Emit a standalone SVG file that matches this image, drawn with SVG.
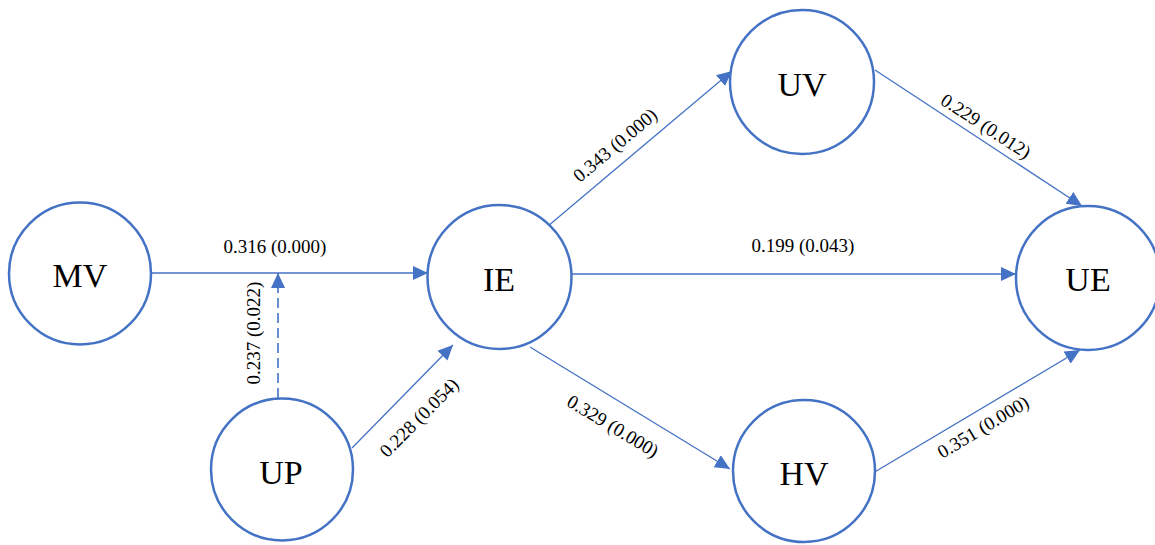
<svg xmlns="http://www.w3.org/2000/svg" width="1155" height="545" viewBox="0 0 1155 545">
  <style>
    .node circle { fill: #ffffff; stroke: #4472C4; stroke-width: 2.5; }
    .node text { font-family: "Liberation Serif", "Times New Roman", serif; font-size: 34px; fill: #000000; text-anchor: middle; }
    .edge { stroke: #4472C4; stroke-width: 1.3; fill: none; marker-end: url(#arrow); }
    .dashed { stroke-dasharray: 10 5; stroke-width: 1.6; }
    .lbl { font-family: "Liberation Serif", "Times New Roman", serif; font-size: 19px; fill: #000000; text-anchor: middle; }
  </style>
  <defs>
    <marker id="arrow" viewBox="0 0 15 14" refX="15" refY="7" markerWidth="15" markerHeight="14" markerUnits="userSpaceOnUse" orient="auto">
      <path d="M0,0 L15,7 L0,14 Z" fill="#4472C4"/>
    </marker>
  </defs>

  <rect width="1155" height="545" fill="#ffffff"/>

  <!-- connectors -->
  <g id="connectors">
    <line class="edge" x1="151" y1="273" x2="428" y2="273"/>
    <line class="edge dashed" x1="278" y1="398" x2="278" y2="273"/>
    <line class="edge" x1="352" y1="448" x2="453" y2="345"/>
    <line class="edge" x1="548" y1="226" x2="732" y2="71"/>
    <line class="edge" x1="571" y1="274" x2="1016" y2="274"/>
    <line class="edge" x1="530" y1="347" x2="730" y2="469"/>
    <line class="edge" x1="875" y1="70" x2="1082" y2="206"/>
    <line class="edge" x1="873" y1="473" x2="1080" y2="350"/>

    <text class="lbl" x="275" y="253">0.316 (0.000)</text>
    <text class="lbl" transform="translate(253.5,333) rotate(-90)" y="6.5">0.237 (0.022)</text>
    <text class="lbl" transform="translate(419,417.5) rotate(-45)" y="6.5">0.228 (0.054)</text>
    <text class="lbl" transform="translate(615,145) rotate(-40)" y="6.5">0.343 (0.000)</text>
    <text class="lbl" x="803" y="252">0.199 (0.043)</text>
    <text class="lbl" transform="translate(613,426) rotate(31)" y="6.5">0.329 (0.000)</text>
    <text class="lbl" transform="translate(986,126) rotate(33)" y="6.5">0.229 (0.012)</text>
    <text class="lbl" transform="translate(983,427) rotate(-31)" y="6.5">0.351 (0.000)</text>
  </g>

  <!-- nodes -->
  <g id="MV" class="node">
    <circle cx="80" cy="273.5" r="71"/>
    <text x="80" y="287">MV</text>
  </g>
  <g id="UP" class="node">
    <circle cx="282" cy="469.5" r="71"/>
    <text x="281" y="484">UP</text>
  </g>
  <g id="IE" class="node">
    <circle cx="499.5" cy="277" r="72"/>
    <text x="499" y="290.5">IE</text>
  </g>
  <g id="UV" class="node">
    <circle cx="802" cy="82" r="72"/>
    <text x="802" y="96">UV</text>
  </g>
  <g id="HV" class="node">
    <circle cx="804" cy="471" r="71"/>
    <text x="804" y="485">HV</text>
  </g>
  <g id="UE" class="node">
    <circle cx="1088" cy="278" r="72"/>
    <text x="1088" y="291">UE</text>
  </g>
</svg>
